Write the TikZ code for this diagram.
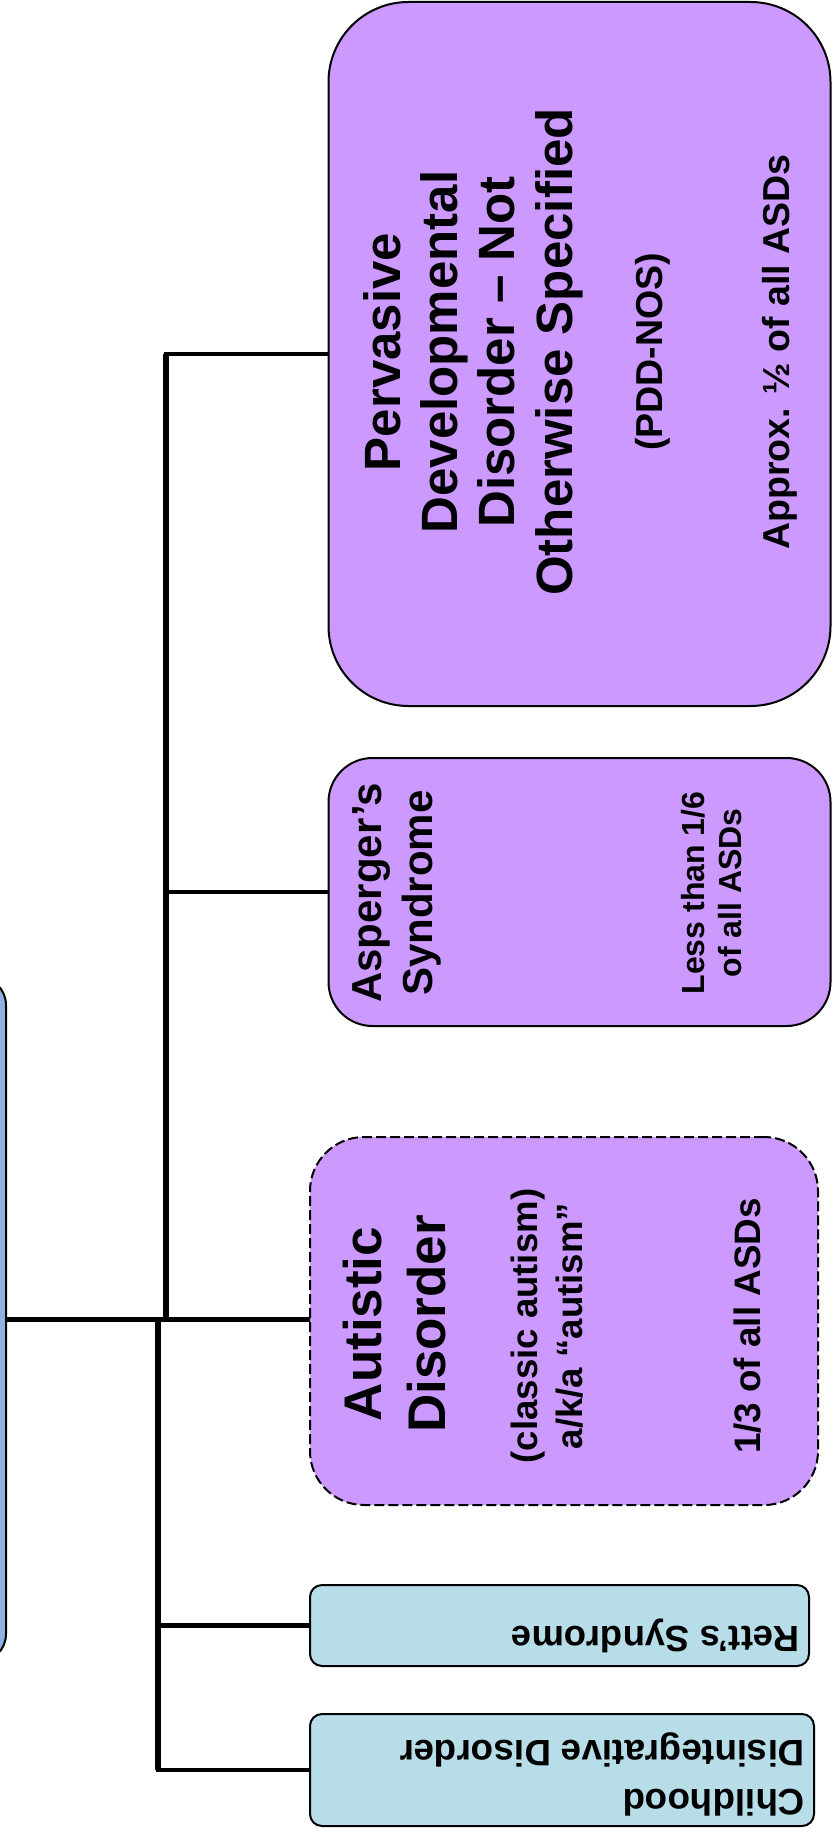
\documentclass[tikz,border=0pt]{standalone}
\usepackage{fontspec}
\setmainfont{Liberation Sans}
\usetikzlibrary{backgrounds}
\definecolor{asdpurple}{HTML}{CC99FF}
\definecolor{asdteal}{HTML}{B7DEE8}
\definecolor{asdblue}{HTML}{8DB3E2}
\newcommand{\asdsize}[2]{\fontsize{#1}{#2}\selectfont}
\tikzset{
  box/.style     = {draw=black, line width=1pt, inner sep=0pt},
  subtype/.style = {box, fill=asdpurple},
  other/.style   = {box, fill=asdteal},
  rootbox/.style = {box, fill=asdblue},
  %
  lbl/.style     = {font=\bfseries, align=center, inner sep=0pt, text=black},
  uplbl/.style   = {lbl, rotate=90},
  flip/.style    = {lbl, rotate=180, align=left},
  %
  branch/.style  = {draw=black, line width=2.2pt, line cap=rect},
  spine/.style   = {draw=black, line width=2.9pt},
}
\begin{document}
\begin{tikzpicture}[x=0.5pt, y=-0.5pt]
  \useasboundingbox (0,0) rectangle (832,1835);
  \clip (0,0) rectangle (832,1835);

  % ---------- root (mostly off the page) ----------------------------------
  \node[rootbox, rounded corners=14pt, minimum width=43pt,
        minimum height=342.5pt] (root) at (-37,1319.5) {};

  % ---------- PDD-NOS -------------------------------------------------------
  \node[subtype, rounded corners=40pt, minimum width=251pt,
        minimum height=352pt] (pdd) at (579.5,354) {};
  \node[uplbl, font=\bfseries\asdsize{25.5}{28.7}] (pddttl) at (473,352)
    {Pervasive\\Developmental\\Disorder – Not\\Otherwise Specified};
  \node[uplbl, font=\bfseries\asdsize{18.75}{22}] (pddsub) at (653,352)
    {(PDD-NOS)};
  \node[uplbl, font=\bfseries\asdsize{18.75}{22}] (pddpct) at (780,352)
    {Approx. ½ of all ASDs};

  % ---------- Asperger's ----------------------------------------------------
  \node[subtype, rounded corners=22pt, minimum width=251pt,
        minimum height=134pt] (asp) at (579.5,892) {};
  \node[uplbl, font=\bfseries\asdsize{21}{25.5}] (aspttl) at (396.5,893)
    {Asperger’s\\Syndrome};
  \node[uplbl, font=\bfseries\asdsize{16}{18.5}] (asppct) at (712,893)
    {Less than 1/6\\of all ASDs};

  % ---------- Autistic Disorder ---------------------------------------------
  \node[subtype, dashed, dash pattern=on 5pt off 2pt, rounded corners=27pt,
        minimum width=254pt, minimum height=184pt] (aut) at (564,1321) {};
  \node[uplbl, font=\bfseries\asdsize{26.5}{32.25}] (autttl) at (394.5,1324)
    {Autistic\\Disorder};
  \node[uplbl, font=\bfseries\asdsize{18.3}{22.75}] (autsub) at (547,1326)
    {(classic autism)\\a/k/a “autism”};
  \node[uplbl, font=\bfseries\asdsize{18.4}{22}] (autpct) at (748,1326)
    {1/3 of all ASDs};

  % ---------- Rett's / CDD (upside down) ------------------------------------
  \node[other, rounded corners=6pt, minimum width=249.5pt,
        minimum height=40.5pt] (rett) at (559.5,1625.5) {};
  \node[flip, anchor=base west, font=\bfseries\asdsize{18.2}{22}] (rettlbl)
    at (800,1626) {Rett’s Syndrome};

  \node[other, rounded corners=6pt, minimum width=252pt,
        minimum height=56pt] (cdd) at (562,1770) {};
  \node[flip, anchor=north west, font=\bfseries\asdsize{18.4}{24.75}] (cddlbl)
    at (805,1817) {Childhood\\Disintegrative Disorder};

  % ---------- connectors ----------------------------------------------------
  \begin{scope}[on background layer]
    \coordinate (upj) at (166,1320);
    \coordinate (loj) at (158,1320);
    \draw[branch] (root.east) -- (root.east -| aut.west);
    \draw[spine] (upj) -- (upj |- pdd.west);
    \draw[spine] (loj) -- (loj |- cdd.west);
    \draw[branch] (upj |- pdd.west) -- (pdd.west);
    \draw[branch] (upj |- asp.west) -- (asp.west);
    \draw[branch] (loj |- rett.west) -- (rett.west);
    \draw[branch] (loj |- cdd.west) -- (cdd.west);
  \end{scope}

\end{tikzpicture}
\end{document}
